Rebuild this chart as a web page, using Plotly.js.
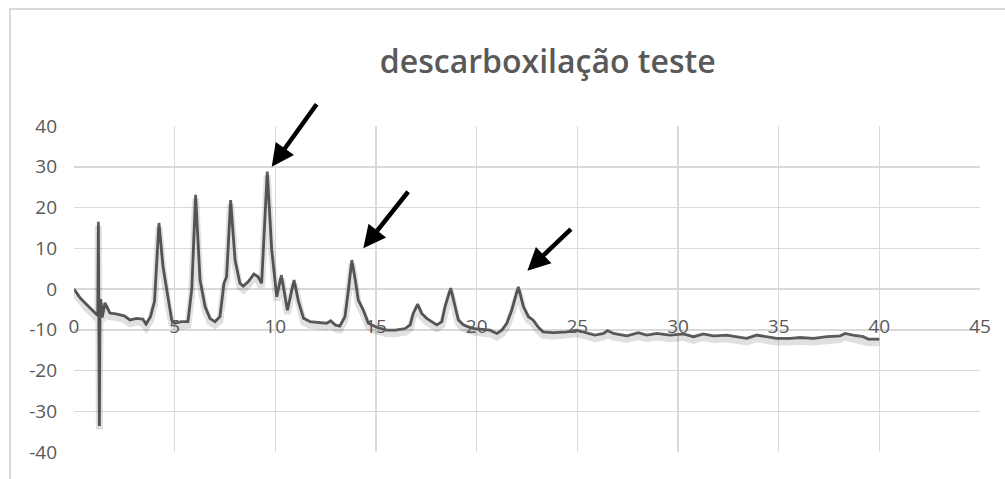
<!DOCTYPE html>
<html>
<head>
<meta charset="utf-8">
<script src="https://cdn.plot.ly/plotly-3.0.1.min.js"></script>
<style>html,body{margin:0;padding:0;background:#fff;}#chart{width:1005px;height:479px;}</style>
</head>
<body>
<div id="chart"></div>
<script>
// Time (x) values
const timeValues = [0, 0.3, 0.6, 1.0, 1.15, 1.18, 1.21, 1.24, 1.26, 1.29, 1.33, 1.4, 1.54, 1.78, 2.1, 2.5, 2.78, 3.1, 3.42, 3.58, 3.8, 4.0, 4.22, 4.42, 4.67, 4.85,
  5.0, 5.33, 5.66, 5.85, 6.04, 6.26, 6.51, 6.75, 7.0, 7.25, 7.45, 7.58, 7.78, 8.0, 8.24, 8.41, 8.66, 8.94, 9.14, 9.32, 9.6, 9.82,
  10.07, 10.3, 10.6, 10.93, 11.15, 11.4, 11.73, 12.2, 12.55, 12.75, 12.97, 13.2, 13.46, 13.63, 13.8, 13.97, 14.12, 14.37, 14.62,
  15.04, 15.53, 15.95, 16.44, 16.7, 16.85, 17.07, 17.27, 17.52, 17.77, 18.02, 18.27, 18.43, 18.71, 18.92, 19.09, 19.34, 19.59, 19.92,
  20.26, 20.67, 21.0, 21.25, 21.5, 21.74, 22.07, 22.32, 22.57, 22.8, 23.05, 23.3, 23.8, 24.47, 24.97, 25.47, 25.88, 26.3, 26.5, 26.8,
  27.46, 28.03, 28.45, 28.95, 29.6, 30.27, 30.77, 31.26, 31.76, 32.42, 33.41, 33.91, 34.41, 34.9, 35.57, 36.07, 36.73, 37.39, 38.05,
  38.3, 38.7, 39.2, 39.45, 40.0];
// Signal (y) values
const signalValues = [0, -2.2, -3.7, -5.6, -6.5, -6.5, 16.5, -6, -33.6, -6, -2.5, -7, -3.4, -5.9, -6.1, -6.6, -7.6, -7.2, -7.4, -8.6, -6.8, -3, 16.2, 5.5, -2.7, -7.6,
  -8.4, -8.0, -8.0, 0, 23.1, 2.2, -4.3, -7.2, -8.0, -6.8, 1.4, 3.0, 21.8, 7.1, 1.4, 0.7, 1.8, 3.7, 3.0, 1.4, 28.8, 9.6,
  -1.9, 3.4, -5.2, 2.2, -3.1, -7.2, -8.0, -8.3, -8.4, -7.8, -8.8, -9.1, -6.8, -0.2, 7.1, 2.2, -2.7, -5.2, -8.4,
  -9.4, -10.1, -10.1, -9.7, -8.8, -6.0, -3.7, -6.0, -7.2, -8.0, -8.8, -8.0, -4.3, 0.2, -4.3, -7.6, -8.8, -9.3, -9.7,
  -9.9, -10.1, -10.9, -10.1, -8.4, -5.2, 0.5, -4.3, -6.8, -7.6, -9.3, -10.5, -10.7, -10.5, -10.1, -10.7, -11.3, -10.9, -10.2, -10.9,
  -11.5, -10.7, -11.3, -10.9, -11.3, -11.0, -11.7, -11.0, -11.5, -11.3, -12.1, -11.3, -11.7, -12.1, -12.1, -11.9, -12.1, -11.7, -11.5,
  -10.9, -11.3, -11.7, -12.3, -12.3];
// Axis ticks
const xTicks = [0, 5, 10, 15, 20, 25, 30, 35, 40, 45];
const yTicks = [-40, -30, -20, -10, 0, 10, 20, 30, 40];
// Arrow annotations: tip in data coords, tail offset in px
const arrowTipX = [9.82, 14.37, 22.52];
const arrowTipY = [30.0, 10.0, 4.5];
const arrowTailDx = [46, 46, 45];
const arrowTailDy = [-64, -58, -43];

const titleText = 'descarboxilação teste';
const gray = '#595959';
const grid = '#d9d9d9';

const shadow = {
  x: timeValues, y: signalValues, type: 'scatter', mode: 'lines', yaxis: 'y2',
  line: {color: 'rgba(0,0,0,0.12)', width: 7}, hoverinfo: 'skip', showlegend: false
};
const main = {
  x: timeValues, y: signalValues, type: 'scatter', mode: 'lines',
  line: {color: '#5f5f5f', width: 2.8}, showlegend: false
};

const annotations = arrowTipX.map((x, i) => ({
  x: x, y: arrowTipY[i], xref: 'x', yref: 'y',
  ax: arrowTailDx[i], ay: arrowTailDy[i],
  showarrow: true, arrowhead: 2, arrowsize: 1, arrowwidth: 4.5, arrowcolor: '#000', text: '', standoff: 0
}));

const layout = {
  width: 1005, height: 479,
  margin: {l: 74, r: 25, t: 126, b: 27},
  paper_bgcolor: '#fff', plot_bgcolor: '#fff',
  font: {family: 'Open Sans, sans-serif', color: gray},
  title: {text: titleText, font: {size: 32, weight: 600, color: gray, family: 'Open Sans, sans-serif'},
          x: 0.545, xanchor: 'center', y: 0.87, yanchor: 'middle', xref: 'container', yref: 'container'},
  xaxis: {
    range: [0, 45], tickvals: xTicks, ticktext: xTicks.map(String),
    anchor: 'free', position: 0.5, showline: false, zeroline: false,
    showgrid: true, gridcolor: grid, gridwidth: 1.5, ticks: '',
    ticklabelstandoff: 24, tickfont: {size: 19, color: gray}
  },
  yaxis: {
    range: [-40, 40], tickvals: yTicks, ticktext: yTicks.map(String),
    showline: false, zeroline: false, showgrid: true, gridcolor: grid, gridwidth: 1.5,
    ticks: '', ticklabelstandoff: 16, tickfont: {size: 19, color: gray}
  },
  yaxis2: {range: [-39.1, 40.9], overlaying: 'y', visible: false},
  annotations: annotations,
  shapes: [{type: 'rect', xref: 'paper', yref: 'paper', x0: -0.0706, x1: 1.2, y0: -0.3, y1: 1.359,
            line: {color: grid, width: 2}, fillcolor: 'rgba(0,0,0,0)', layer: 'below'}]
};

Plotly.newPlot('chart', [shadow, main], layout, {staticPlot: true, displayModeBar: false});
</script>
</body>
</html>
